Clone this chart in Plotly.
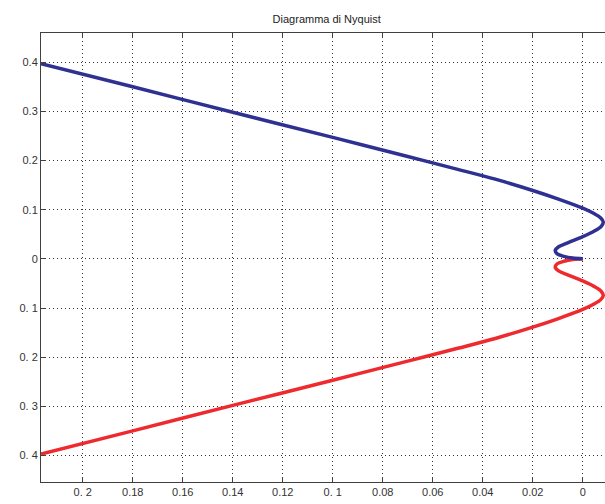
import plotly.graph_objects as go

# Positive-frequency branch (blue)
re_pos = [-0.2167, -0.18, -0.14, -0.10, -0.07, -0.05, -0.035, -0.02, -0.01, 0.0, 0.0045, 0.0072, 0.0082,
          0.0074, 0.0045, 0.0, -0.0058, -0.0095, -0.011, -0.0102, -0.0075, -0.004, 0.0]
im_pos = [0.397, 0.350, 0.298, 0.247, 0.208, 0.182, 0.162, 0.139, 0.122, 0.103, 0.092, 0.083, 0.075,
          0.066, 0.056, 0.045, 0.033, 0.025, 0.017, 0.010, 0.005, 0.0015, 0.0]
# Negative-frequency branch (red) is the mirror image
re_neg = re_pos
im_neg = [-v for v in im_pos]

x_ticks = [-0.2, -0.18, -0.16, -0.14, -0.12, -0.1, -0.08, -0.06, -0.04, -0.02, 0]
x_labels = ["0. 2", "0.18", "0.16", "0.14", "0.12", "0. 1", "0.08", "0.06", "0.04", "0.02", "0"]
y_ticks = [0.4, 0.3, 0.2, 0.1, 0, -0.1, -0.2, -0.3, -0.4]
y_labels = ["0.4", "0.3", "0.2", "0.1", "0", "0. 1", "0. 2", "0. 3", "0. 4"]

fig = go.Figure()
fig.add_trace(go.Scatter(x=re_neg, y=im_neg, mode="lines",
                         line=dict(color="#ee2a2e", width=3.5, shape="spline", smoothing=0.9),
                         hoverinfo="skip"))
fig.add_trace(go.Scatter(x=re_pos, y=im_pos, mode="lines",
                         line=dict(color="#2e3192", width=3.5, shape="spline", smoothing=0.9),
                         hoverinfo="skip"))

axis_common = dict(
    showline=True, linecolor="#404040", linewidth=1,
    ticks="inside", ticklen=5, tickcolor="#404040",
    showgrid=True, gridcolor="#333333", gridwidth=1, griddash="1px,3px",
    zeroline=False,
    tickfont=dict(family="Liberation Sans, Arial, sans-serif", size=11, color="#333333"),
)

fig.update_layout(
    width=605, height=504,
    margin=dict(l=41, r=0, t=33, b=22),
    paper_bgcolor="white", plot_bgcolor="white",
    showlegend=False,
    title=dict(text="Diagramma di Nyquist", x=0.54, xanchor="center", y=1 - 19 / 504, yanchor="middle",
               font=dict(family="Liberation Sans, Arial, sans-serif", size=11, color="#222222")),
    xaxis=dict(range=[-0.2167, 0.0089], tickvals=x_ticks, ticktext=x_labels, mirror="ticks", **axis_common),
    yaxis=dict(range=[-0.4539, 0.4593], tickvals=y_ticks, ticktext=y_labels, mirror=False, **axis_common),
)

fig.write_html("out.html")
